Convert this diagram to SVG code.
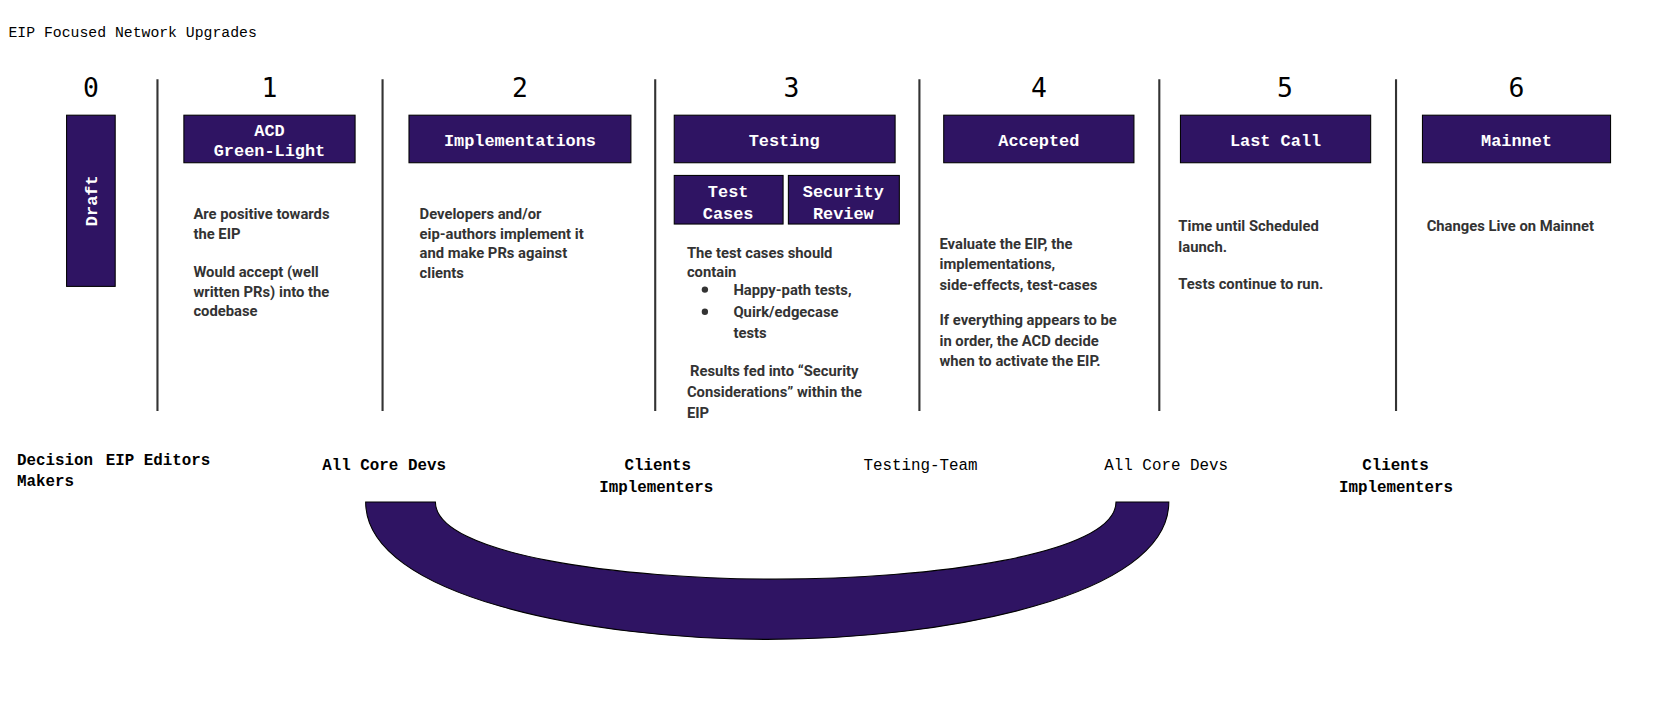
<svg xmlns="http://www.w3.org/2000/svg" width="1657" height="721" viewBox="0 0 1657 721">
<style>
.b{fill:#2f1463;stroke:#000;stroke-width:1}
.bt{font-family:"Liberation Mono",monospace;font-size:16px;font-weight:bold;fill:#fff;text-anchor:middle}
.n{font-family:"DejaVu Sans Mono",monospace;font-size:25px;fill:#000;text-anchor:middle}
.d{font-family:Roboto,"Liberation Sans",sans-serif;font-size:14px;font-weight:bold;fill:#333}
.m{font-family:"Liberation Mono",monospace;font-size:15px;fill:#000}
.v{stroke:#333;stroke-width:2}
</style>
<rect width="1657" height="721" fill="#fff"/>
<g transform="scale(1.0568)">
<text x="8" y="35" class="m" style="font-size:14px">EIP Focused Network Upgrades</text>
<g id="dividers">
<line class="v" x1="149" y1="75" x2="149" y2="389"/>
<line class="v" x1="362" y1="75" x2="362" y2="389"/>
<line class="v" x1="620" y1="75" x2="620" y2="389"/>
<line class="v" x1="870" y1="75" x2="870" y2="389"/>
<line class="v" x1="1097" y1="75" x2="1097" y2="389"/>
<line class="v" x1="1321" y1="75" x2="1321" y2="389"/>
</g>
<g id="numbers">
<text class="n" x="86" y="92">0</text><text class="n" x="255" y="92">1</text><text class="n" x="492" y="92">2</text><text class="n" x="749" y="92">3</text><text class="n" x="983" y="92">4</text><text class="n" x="1216" y="92">5</text><text class="n" x="1435" y="92">6</text>
</g>
<g id="draft"><rect class="b" x="63" y="109" width="46" height="162"/><text class="bt" transform="translate(92,190) rotate(-90)">Draft</text></g>
<g id="acd"><rect class="b" x="174" y="109" width="162" height="45"/><text class="bt" x="255" y="129">ACD</text><text class="bt" x="255" y="148">Green-Light</text></g>
<g id="impl"><rect class="b" x="387" y="109" width="210" height="45"/><text class="bt" x="492" y="138">Implementations</text></g>
<g id="testing"><rect class="b" x="638" y="109" width="209" height="45"/><text class="bt" x="742" y="138">Testing</text></g>
<g id="testcases"><rect class="b" x="638" y="166" width="103" height="46"/><text class="bt" x="689" y="186">Test</text><text class="bt" x="689" y="207">Cases</text></g>
<g id="security"><rect class="b" x="746" y="166" width="105" height="46"/><text class="bt" x="798" y="186">Security</text><text class="bt" x="798" y="207">Review</text></g>
<g id="accepted"><rect class="b" x="893" y="109" width="180" height="45"/><text class="bt" x="983" y="138">Accepted</text></g>
<g id="lastcall"><rect class="b" x="1117" y="109" width="180" height="45"/><text class="bt" x="1207" y="138">Last Call</text></g>
<g id="mainnet"><rect class="b" x="1346" y="109" width="178" height="45"/><text class="bt" x="1435" y="138">Mainnet</text></g>
<g id="descriptions">
<text class="d"><tspan x="183" y="207">Are positive towards</tspan><tspan x="183" y="226">the EIP</tspan><tspan x="183" y="262">Would accept (well</tspan><tspan x="183" y="281">written PRs) into the</tspan><tspan x="183" y="299">codebase</tspan></text>
<text class="d"><tspan x="397" y="207">Developers and/or</tspan><tspan x="397" y="226">eip-authors implement it</tspan><tspan x="397" y="244">and make PRs against</tspan><tspan x="397" y="263">clients</tspan></text>
<text class="d"><tspan x="650" y="244">The test cases should</tspan><tspan x="650" y="262">contain</tspan><tspan x="694" y="279">Happy-path tests,</tspan><tspan x="694" y="300">Quirk/edgecase</tspan><tspan x="694" y="320">tests</tspan><tspan x="653" y="356">Results fed into “Security</tspan><tspan x="650" y="376">Considerations” within the</tspan><tspan x="650" y="396">EIP</tspan></text>
<text class="d"><tspan x="889" y="236">Evaluate the EIP, the</tspan><tspan x="889" y="255">implementations,</tspan><tspan x="889" y="274">side-effects, test-cases</tspan><tspan x="889" y="308">If everything appears to be</tspan><tspan x="889" y="327">in order, the ACD decide</tspan><tspan x="889" y="346">when to activate the EIP.</tspan></text>
<text class="d"><tspan x="1115" y="219">Time until Scheduled</tspan><tspan x="1115" y="238">launch.</tspan><tspan x="1115" y="273">Tests continue to run.</tspan></text>
<text class="d"><tspan x="1350" y="219">Changes Live on Mainnet</tspan></text>
</g>
<g id="bullets" fill="#333"><circle cx="667" cy="274" r="3"/><circle cx="667" cy="295" r="3"/></g>
<g id="roles" class="m" style="font-weight:bold">
<text x="16" y="440">Decision</text><text x="16" y="460">Makers</text>
<text x="100" y="440">EIP Editors</text>
<text x="305" y="445">All Core Devs</text>
<text x="591" y="445">Clients</text><text x="567" y="466">Implementers</text>
<text x="817" y="445" style="font-weight:normal">Testing-Team</text>
<text x="1045" y="445" style="font-weight:normal">All Core Devs</text>
<text x="1289" y="445">Clients</text><text x="1267" y="466">Implementers</text>
</g>
<g id="connectors">
<path d="M346,475 C346,565 560,605 726,605 C892,605 1106,565 1106,475 L1056,475 C1056,525 880,548 734,548 C588,548 412,525 412,475 Z" fill="#2f1463" stroke="#000" stroke-width="1"/>
</g>
</g>
</svg>
